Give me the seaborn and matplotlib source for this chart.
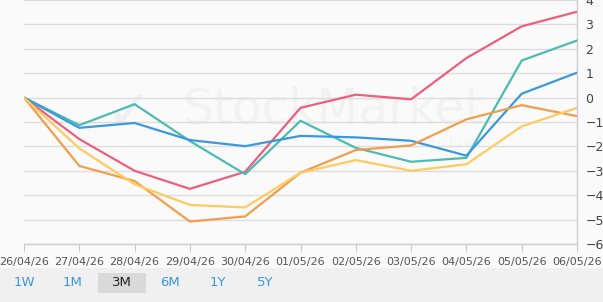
import numpy as np
import pandas as pd
import seaborn as sns
import matplotlib.pyplot as plt
from matplotlib.patches import Rectangle

# dates on the x axis
dates = ["26/04/26", "27/04/26", "28/04/26", "29/04/26", "30/04/26", "01/05/26",
         "02/05/26", "03/05/26", "04/05/26", "05/05/26", "06/05/26"]

# % change per series
red = [0, -1.70, -3.00, -3.74, -3.04, -0.42, 0.12, -0.07, 1.62, 2.92, 3.52]
teal = [0, -1.13, -0.27, -1.78, -3.14, -0.95, -2.06, -2.63, -2.47, 1.52, 2.34]
blue = [0, -1.24, -1.04, -1.74, -1.99, -1.57, -1.63, -1.77, -2.38, 0.16, 1.02]
orange = [0, -2.80, -3.42, -5.08, -4.87, -3.08, -2.15, -1.96, -0.89, -0.31, -0.76]
yellow = [0, -2.08, -3.55, -4.40, -4.50, -3.08, -2.56, -3.00, -2.73, -1.18, -0.42]

series = {"red": red, "teal": teal, "blue": blue, "orange": orange, "yellow": yellow}
colors = {"red": "#ec5f7e", "teal": "#4cbcb3", "blue": "#3a98dc",
          "orange": "#f29e4c", "yellow": "#fdcb60"}

periods = ["1W", "1M", "3M", "6M", "1Y", "5Y"]
selected = "3M"

rows = []
for name, vals in series.items():
    for i, v in enumerate(vals):
        rows.append({"day": i, "value": v, "series": name})
df = pd.DataFrame(rows)

fig = plt.figure(figsize=(6.03, 3.02), dpi=100)
fig.patch.set_facecolor("#fafafa")
ax = fig.add_axes([24 / 603, 1 - 244 / 302, 553 / 603, 244 / 302])
ax.set_facecolor("#fafafa")

# faint watermark
ax.text(0.56, 0.55, "StockMarket", transform=ax.transAxes, fontsize=35,
        color="#000000", alpha=0.03, ha="center", va="center", zorder=0)
ax.text(0.78, 0.41, "o n l i n e", transform=ax.transAxes, fontsize=9,
        color="#000000", alpha=0.03, ha="center", va="center", zorder=0)
ax.text(0.19, 0.53, "\u2713", transform=ax.transAxes, fontsize=40,
        color="#8899cc", alpha=0.1, ha="center", va="center", zorder=0)

sns.lineplot(data=df, x="day", y="value", hue="series", palette=colors,
             linewidth=1.6, legend=False, ax=ax, zorder=3)

ax.set_xlim(0, len(dates) - 1)
ax.set_ylim(-6, 4)
ax.set_xticks(range(len(dates)))
ax.set_xticklabels(dates)
ax.set_yticks(range(-6, 5))
ax.yaxis.tick_right()
ax.grid(axis="y", color="#dddddd", linewidth=1)
ax.grid(axis="x", visible=False)
ax.tick_params(axis="y", length=0, pad=6, labelsize=9, labelcolor="#444444")
ax.tick_params(axis="x", length=6, color="#cccccc", pad=3, labelsize=8, labelcolor="#555555")
ax.set_xlabel("")
ax.set_ylabel("")
for side in ["top", "left"]:
    ax.spines[side].set_visible(False)
for side in ["bottom", "right"]:
    ax.spines[side].set_color("#cccccc")
    ax.spines[side].set_linewidth(1)

# period selector bar
fig.patches.append(Rectangle((0, 0), 1, 34 / 302, transform=fig.transFigure,
                             facecolor="#f0f0f0", edgecolor="none", zorder=0))
xs = [24, 73, 122, 170, 218, 265]
for p, x in zip(periods, xs):
    if p == selected:
        fig.patches.append(Rectangle(((x - 24) / 603, 9 / 302), 48 / 603, 20 / 302,
                                     transform=fig.transFigure, facecolor="#d9d9d9",
                                     edgecolor="none", zorder=1))
    fig.text(x / 603, 19 / 302, p, ha="center", va="center", fontsize=9.5,
             color="#222222" if p == selected else "#3a98dc", zorder=2)

fig.savefig("out.png", dpi=100, facecolor=fig.get_facecolor())
